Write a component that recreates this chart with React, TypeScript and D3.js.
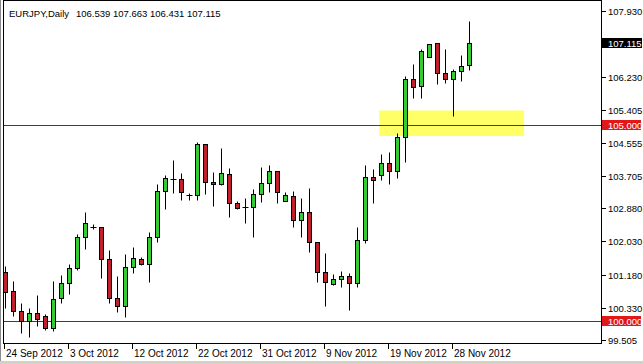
import React from "react";
import * as d3 from "d3";

const symbolTitle = "EURJPY,Daily";
const dateLabels = ["24 Sep 2012", "3 Oct 2012", "12 Oct 2012", "22 Oct 2012", "31 Oct 2012", "9 Nov 2012", "19 Nov 2012", "28 Nov 2012"];
const dateLabelIdx = [0, 8, 16, 24, 32, 40, 48, 56];

const openV = [101.254,100.760,100.240,100.004,100.189,100.127,99.825,100.568,100.957,101.336,
102.135,102.411,102.406,101.571,100.573,100.368,101.367,101.579,101.444,102.130,
103.328,103.628,103.620,103.210,103.210,104.524,103.551,103.492,103.756,103.006,
102.919,102.919,103.236,103.518,103.825,103.057,103.205,102.570,102.775,102.007,
101.246,100.947,101.059,101.144,100.957,102.066,103.671,103.743,104.030,103.840,
104.696,106.181,106.002,106.760,107.103,106.335,106.181,106.386,106.539];
const highV = [101.400,101.016,100.465,100.324,100.657,100.171,101.016,101.169,101.459,102.219,
102.775,102.475,102.406,101.810,101.144,101.700,101.879,101.638,102.263,103.500,
103.743,104.114,103.774,103.277,104.568,104.524,103.799,104.429,103.902,103.057,
103.134,103.364,103.927,103.986,103.825,103.295,103.313,103.134,103.390,102.007,
101.725,101.187,101.272,101.213,102.391,103.986,103.876,104.268,104.312,104.798,
106.273,106.573,106.957,107.085,107.103,106.949,106.437,106.803,107.663];
const lowV = [100.324,100.127,99.684,99.589,99.876,99.761,99.748,100.445,100.691,101.290,
101.828,102.347,101.085,100.445,100.230,100.102,101.213,101.426,100.998,102.022,
102.867,103.262,103.090,103.090,103.090,103.244,102.944,103.480,102.662,102.860,
102.493,102.150,103.046,103.303,103.021,103.057,102.406,102.150,101.766,100.998,
100.383,100.906,100.855,100.273,100.855,101.981,103.021,103.602,103.500,103.646,
104.071,105.694,105.694,106.744,106.061,106.094,105.241,106.125,106.431];
const closeV = [100.742,100.248,99.999,100.196,100.035,99.825,100.547,100.957,101.341,102.135,
102.493,102.411,101.571,100.573,100.388,101.387,101.597,101.444,102.135,103.321,
103.653,103.628,103.287,103.210,104.524,103.543,103.492,103.782,103.006,102.893,
102.919,103.236,103.518,103.825,103.287,103.210,102.578,102.775,102.007,101.246,
100.982,101.059,101.144,100.957,102.066,103.671,103.595,104.030,103.840,104.696,
106.181,105.991,106.906,107.085,106.335,106.181,106.386,106.534,107.115];

const priceTicks = [107.930, 106.230, 105.405, 104.555, 103.705, 102.880, 102.030, 101.180, 100.330, 99.505];
const levelLines = [105.0, 100.0];
const zoneTop = 105.382;
const zoneBottom = 104.729;
const zoneStartBar = 46.75;
const zoneEndBar = 64.85;

const W = 643, H = 364;
const plotL = 3.5, plotR = 601.5, plotT = 0.5, plotB = 343.5;
const FONT = "'Liberation Sans', Arial, sans-serif";
const GREEN = "#33cc33";
const RED = "#c0202a";
const LEVEL = "#d40000";

export default function App() {
  const x = d3.scaleLinear().domain([0, 58]).range([5.3, 469.3]);
  const y = d3.scaleLinear().domain([99.505, 107.93]).range([340, 11]);
  const cx = (i: number) => Math.round(x(i)) + 0.5;
  const cy = (p: number) => Math.round(y(p)) + 0.5;
  const last = closeV[closeV.length - 1];

  return (
    <svg width={W} height={H} style={{ position: "absolute", left: 0, top: 0, background: "#fff" }} fontFamily={FONT}>
      <defs>
        <clipPath id="plotclip">
          <rect x={plotL + 0.5} y={plotT + 0.5} width={plotR - plotL - 1} height={plotB - plotT - 1} />
        </clipPath>
      </defs>
      <rect x={0} y={0} width={W} height={H} fill="#fff" />
      <line x1={0.5} y1={0} x2={0.5} y2={H} stroke="#8a8a8a" />
      <rect x={0} y={361} width={W} height={3} fill="#d4d0c8" />
      <g clipPath="url(#plotclip)">
        <rect x={x(zoneStartBar)} y={y(zoneTop)} width={x(zoneEndBar) - x(zoneStartBar)} height={y(zoneBottom) - y(zoneTop)} fill="#ffff66" />
        {levelLines.map((lv) => (
          <rect key={lv} x={plotL} width={plotR - plotL} y={cy(lv) - 0.5} height={1} fill={LEVEL} />
        ))}
        {openV.map((o, i) => {
          const c = closeV[i];
          const X = cx(i);
          const top = Math.max(o, c), bot = Math.min(o, c);
          const yt = cy(top), yb = cy(bot);
          return (
            <g key={i}>
              <line x1={X} x2={X} y1={cy(highV[i])} y2={cy(lowV[i])} stroke="#000" />
              {yb - yt < 1 ? (
                <line x1={X - 3} x2={X + 3} y1={yt} y2={yt} stroke="#000" />
              ) : (
                <rect x={X - 2} y={yt} width={4} height={yb - yt} fill={c > o ? GREEN : RED} stroke="#000" />
              )}
            </g>
          );
        })}
      </g>
      <rect x={plotL} y={plotT} width={plotR - plotL} height={plotB - plotT} fill="none" stroke="#000" />
      <text x={9} y={17} fontSize={9.5} fill="#000">{symbolTitle}</text>
      <text x={76} y={17} fontSize={9.5} fill="#000">{`${openV[58].toFixed(3)} ${highV[58].toFixed(3)} ${lowV[58].toFixed(3)} ${closeV[58].toFixed(3)}`}</text>
      {priceTicks.map((p) => (
        <g key={p}>
          <line x1={602} x2={606} y1={cy(p)} y2={cy(p)} stroke="#000" />
          <text x={608} y={cy(p) + 3.5} fontSize={9.5} fill="#000">{p.toFixed(3)}</text>
        </g>
      ))}
      {levelLines.map((lv) => (
        <g key={"lb" + lv}>
          <rect x={602} y={cy(lv) - 5.5} width={39} height={10} fill="#e01818" />
          <text x={608} y={cy(lv) + 3.5} fontSize={9.5} fill="#fff">{lv.toFixed(3)}</text>
        </g>
      ))}
      <rect x={602} y={cy(last) - 5.5} width={40} height={10} fill="#000" />
      <text x={608} y={cy(last) + 3.5} fontSize={9.5} fill="#fff">{last.toFixed(3)}</text>
      {dateLabelIdx.map((idx, k) => (
        <g key={idx}>
          <line x1={cx(idx) - 1} x2={cx(idx) - 1} y1={344} y2={349} stroke="#000" />
          <text x={cx(idx) + 0.5} y={357} fontSize={10} fill="#000">{dateLabels[k]}</text>
        </g>
      ))}
    </svg>
  );
}
